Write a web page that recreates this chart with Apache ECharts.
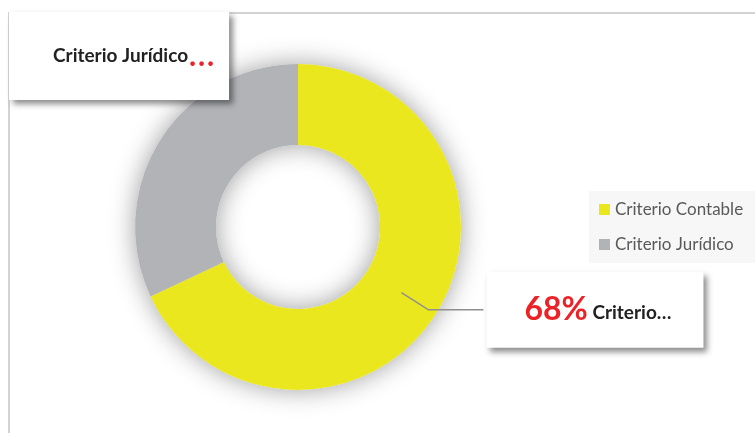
<!DOCTYPE html>
<html>
<head>
<meta charset="utf-8">
<script src="https://cdn.jsdelivr.net/npm/echarts@6/dist/echarts.min.js"></script>
<style>
html,body{margin:0;padding:0;background:#fff;}
#c{width:755px;height:433px;}
</style>
</head>
<body>
<div id="c"></div>
<script>
const categories = ['Criterio Contable', 'Criterio Jurídico'];
const values = [68, 32];
const colors = ['#EBE71F', '#B2B3B7'];
const titleText = 'Criterio Jurídico';

const FONT = 'Lato, "Open Sans", sans-serif';
const chart = echarts.init(document.getElementById('c'), null, {renderer: 'canvas'});

const mainData = categories.map((n, i) => ({name: n, value: values[i], itemStyle: {color: colors[i]}}));
const shadowData = categories.map((n, i) => ({name: n, value: values[i]}));
const labelData = categories.map((n, i) => ({
  name: n, value: values[i],
  label: {show: i === 0},
  labelLine: {show: i === 0}
}));

const option = {
  animation: false,
  backgroundColor: '#ffffff',
  graphic: [{
    type: 'rect', z: -10, silent: true,
    shape: {x: 9, y: 13, width: 780, height: 450},
    style: {fill: 'none', stroke: '#d3d3d3', lineWidth: 2}
  }],
  title: {
    text: titleText + '{s| }{d|.}{d|.}{d|.}',
    left: 9, top: 17,
    padding: [29, 13, 29, 44],
    backgroundColor: '#ffffff',
    shadowBlur: 6, shadowColor: 'rgba(0,0,0,0.45)', shadowOffsetX: 4, shadowOffsetY: 4,
    textStyle: {
      fontFamily: FONT, fontSize: 19, fontWeight: 'bold', color: '#222222', lineHeight: 20,
      rich: {
        s: {fontFamily: FONT, fontSize: 4, lineHeight: 20},
        d: {fontFamily: FONT, fontSize: 30, fontWeight: 'bold', color: '#EC2227', lineHeight: 20, width: 9, align: 'left'}
      }
    }
  },
  legend: {
    orient: 'vertical',
    left: 589, top: 191,
    padding: [10, 40, 10, 10],
    backgroundColor: '#f7f7f7',
    itemWidth: 11, itemHeight: 11, itemGap: 18,
    icon: 'rect',
    selectedMode: false,
    textStyle: {fontFamily: FONT, fontSize: 17, color: '#595959', lineHeight: 17},
    data: categories.map((n, i) => ({name: n, itemStyle: {color: colors[i]}}))
  },
  series: [
    {
      type: 'pie', name: 'main', z: 3,
      center: [298, 227], radius: [82, 163],
      startAngle: 90, clockwise: true,
      avoidLabelOverlap: false,
      label: {show: false}, labelLine: {show: false},
      emphasis: {disabled: true},
      data: mainData
    },
    {
      type: 'pie', name: 'shadow', z: 1, silent: true, legendHoverLink: false,
      center: [298, 227], radius: [82, 163],
      startAngle: 90, clockwise: true,
      label: {show: false}, labelLine: {show: false},
      emphasis: {disabled: true},
      itemStyle: {color: '#ffffff', shadowBlur: 26, shadowColor: 'rgba(0,0,0,0.38)'},
      data: shadowData
    },
    {
      type: 'pie', name: 'label', z: 5, silent: true, legendHoverLink: false,
      center: [298, 227], radius: [0, 122.5],
      startAngle: 90, clockwise: true,
      avoidLabelOverlap: false,
      itemStyle: {color: 'rgba(0,0,0,0)'},
      emphasis: {disabled: true},
      label: {
        show: false, position: 'outside', distanceToLabelLine: 3,
        formatter: p => '{p|' + Math.round(p.percent) + '%}{n| ' + p.name.split(' ')[0] + '…}',
        backgroundColor: '#ffffff',
        padding: [20, 32, 20, 38],
        shadowBlur: 6, shadowColor: 'rgba(0,0,0,0.45)', shadowOffsetX: 4, shadowOffsetY: 4,
        rich: {
          p: {fontFamily: FONT, fontSize: 32, fontWeight: 'bold', color: '#EC2227', lineHeight: 36},
          n: {fontFamily: FONT, fontSize: 19, fontWeight: 'bold', color: '#222222', lineHeight: 36, padding: [6, 0, 0, 0]}
        }
      },
      labelLine: {show: false, length: 32, length2: 55, lineStyle: {color: '#8f8f8f', width: 1.5}},
      data: labelData
    }
  ]
};
chart.setOption(option);
</script>
</body>
</html>
